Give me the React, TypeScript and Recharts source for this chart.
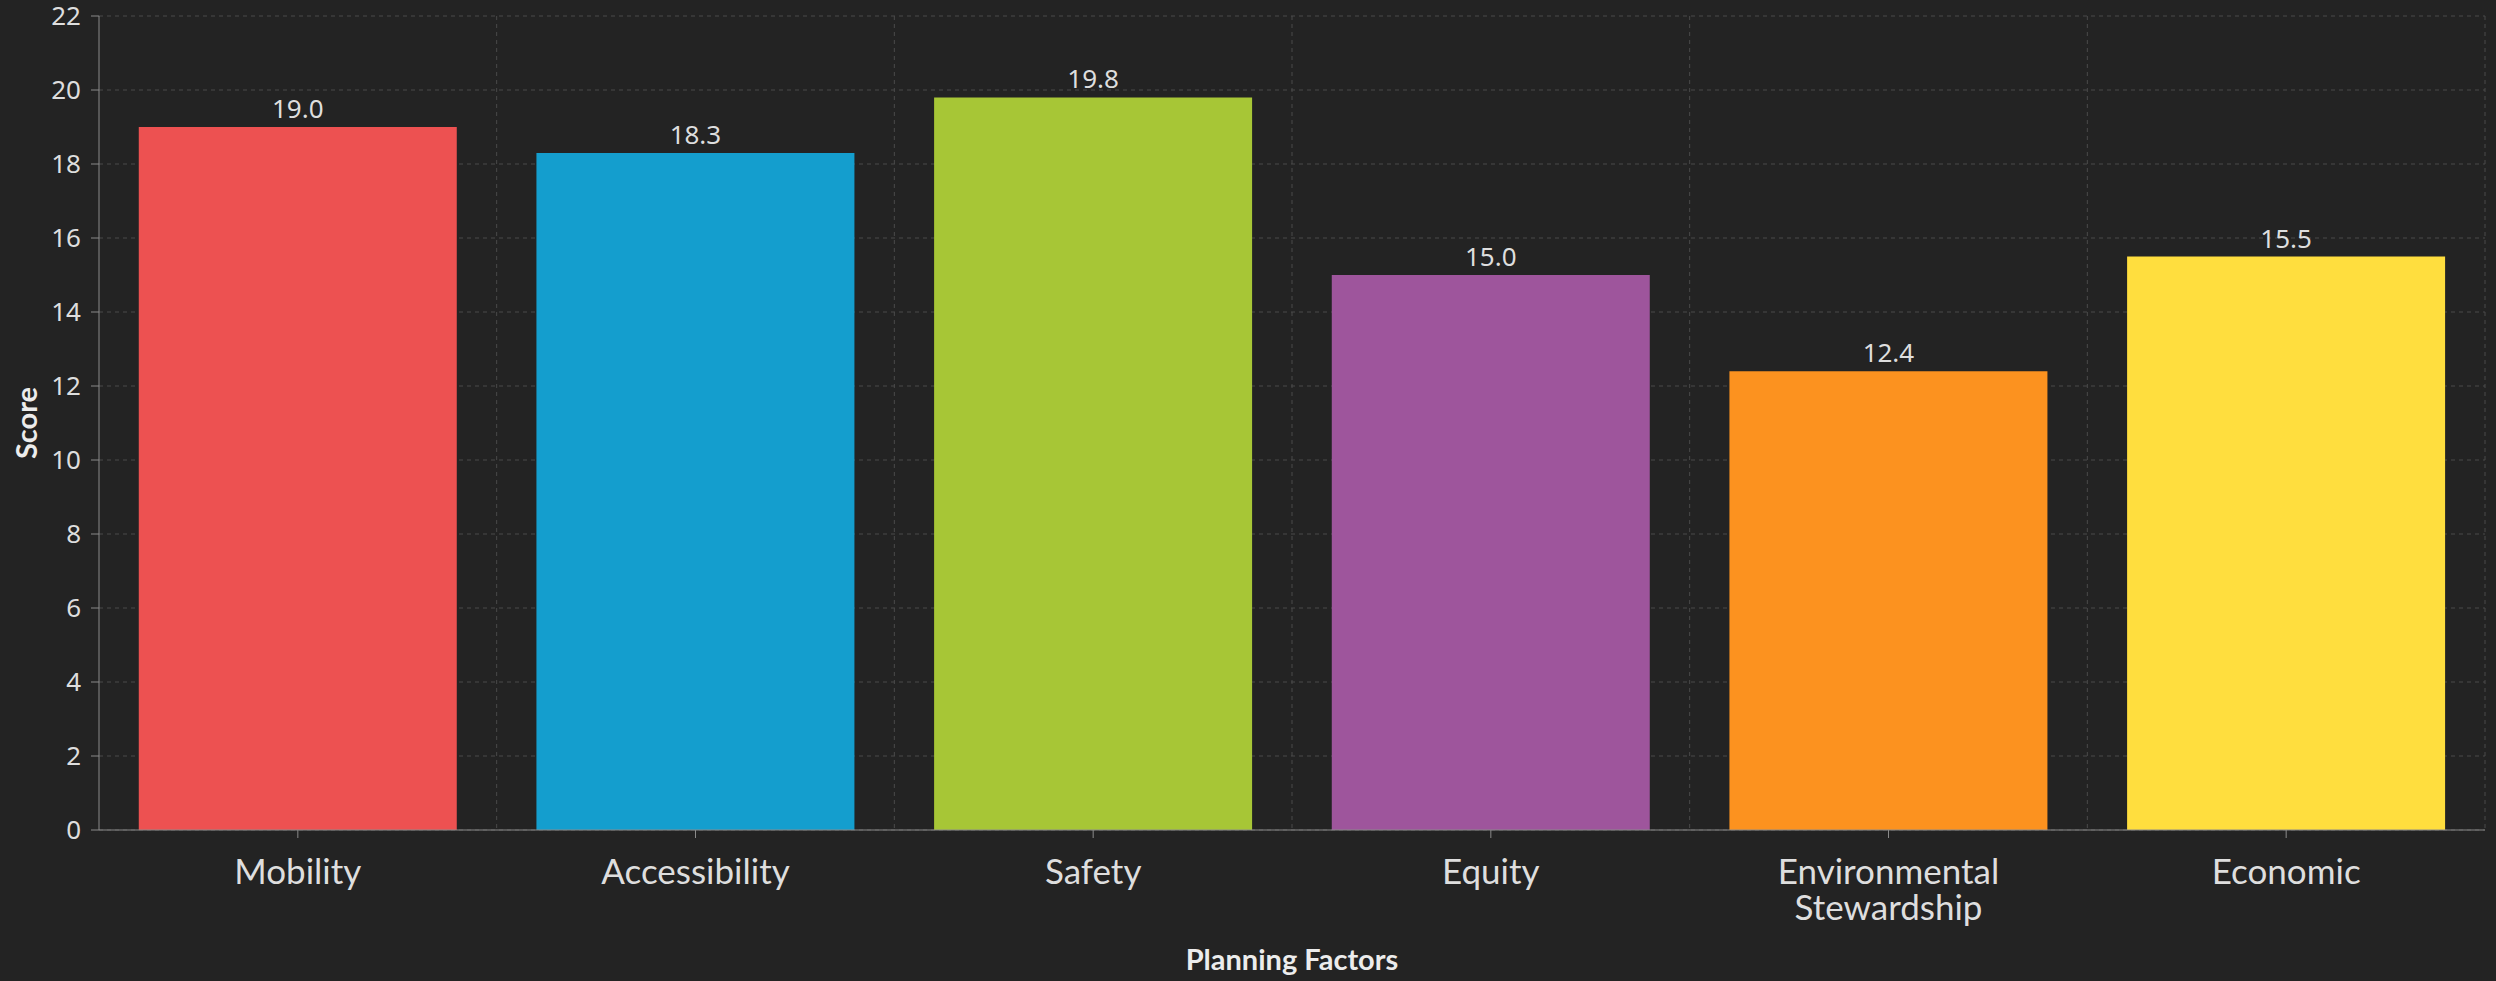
import React from 'react';
import { BarChart, Bar, XAxis, YAxis, CartesianGrid, Cell, LabelList, Label } from 'recharts';

const categories = ['Mobility', 'Accessibility', 'Safety', 'Equity', 'Environmental Stewardship', 'Economic'];
const scores = [19.0, 18.3, 19.8, 15.0, 12.4, 15.5];
const barColors = ['#ed5151', '#149ece', '#a7c636', '#9e559c', '#fc921f', '#ffde3e'];
const yTicks = [0, 2, 4, 6, 8, 10, 12, 14, 16, 18, 20, 22];

const data = categories.map((name, i) => ({ name, score: scores[i] }));

const BG = '#232323';
const TEXT = '#dedede';
const AXIS = '#8a8a8a';
const GRID = '#4a4a4a';

const XTick = (props: any) => {
  const { x, y, payload } = props;
  const value: string = payload.value;
  const lines = value.length > 14 ? value.split(' ') : [value];
  return (
    <text x={x} y={y} textAnchor="middle" fill={TEXT} fontSize={35} fontFamily="Lato">
      {lines.map((l, i) => (
        <tspan key={i} x={x} dy={i === 0 ? 44 : 36}>
          {l}
        </tspan>
      ))}
    </text>
  );
};

const YLabel = (props: any) => {
  const vb = props.viewBox || {};
  const cy = vb.y + vb.height / 2;
  return (
    <text
      x={25}
      y={cy}
      transform={`rotate(-90, 25, ${cy})`}
      textAnchor="middle"
      dominantBaseline="central"
      fill="#ececec"
      fontSize={29}
      fontWeight={700}
      fontFamily="Lato"
    >
      Score
    </text>
  );
};

export default function App() {
  return (
    <div style={{ position: 'absolute', left: 0, top: 0, width: 2496, height: 981, background: BG }}>
      <BarChart
        width={2496}
        height={981}
        data={data}
        margin={{ top: 16, right: 11, left: 0, bottom: 0 }}
        barCategoryGap="10%"
      >
        <CartesianGrid
          stroke={GRID}
          strokeDasharray="4 4"
          verticalCoordinatesGenerator={({ offset }: any) =>
            categories.map((_, i) => offset.left + ((i + 1) * offset.width) / categories.length)
          }
        />
        <XAxis
          dataKey="name"
          height={151}
          tick={<XTick />}
          tickSize={8}
          stroke={AXIS}
          tickLine={{ stroke: AXIS }}
          axisLine={{ stroke: AXIS }}
          interval={0}
        >
          <Label
            value="Planning Factors"
            position="insideBottom"
            offset={11}
            fill="#ececec"
            fontSize={29}
            fontWeight={700}
            fontFamily="Lato"
          />
        </XAxis>
        <YAxis
          width={99}
          domain={[0, 22]}
          ticks={yTicks}
          interval={0}
          tickSize={8}
          tickMargin={10}
          stroke={AXIS}
          tick={{ fill: TEXT, fontSize: 26, fontFamily: 'Noto Sans' }}
          label={<YLabel />}
        />
        <Bar dataKey="score" isAnimationActive={false}>
          {data.map((d, i) => (
            <Cell key={d.name} fill={barColors[i]} />
          ))}
          <LabelList
            dataKey="score"
            position="top"
            offset={9}
            fill={TEXT}
            fontSize={26}
            fontFamily="Noto Sans"
            formatter={(v: any) => Number(v).toFixed(1)}
          />
        </Bar>
      </BarChart>
    </div>
  );
}
